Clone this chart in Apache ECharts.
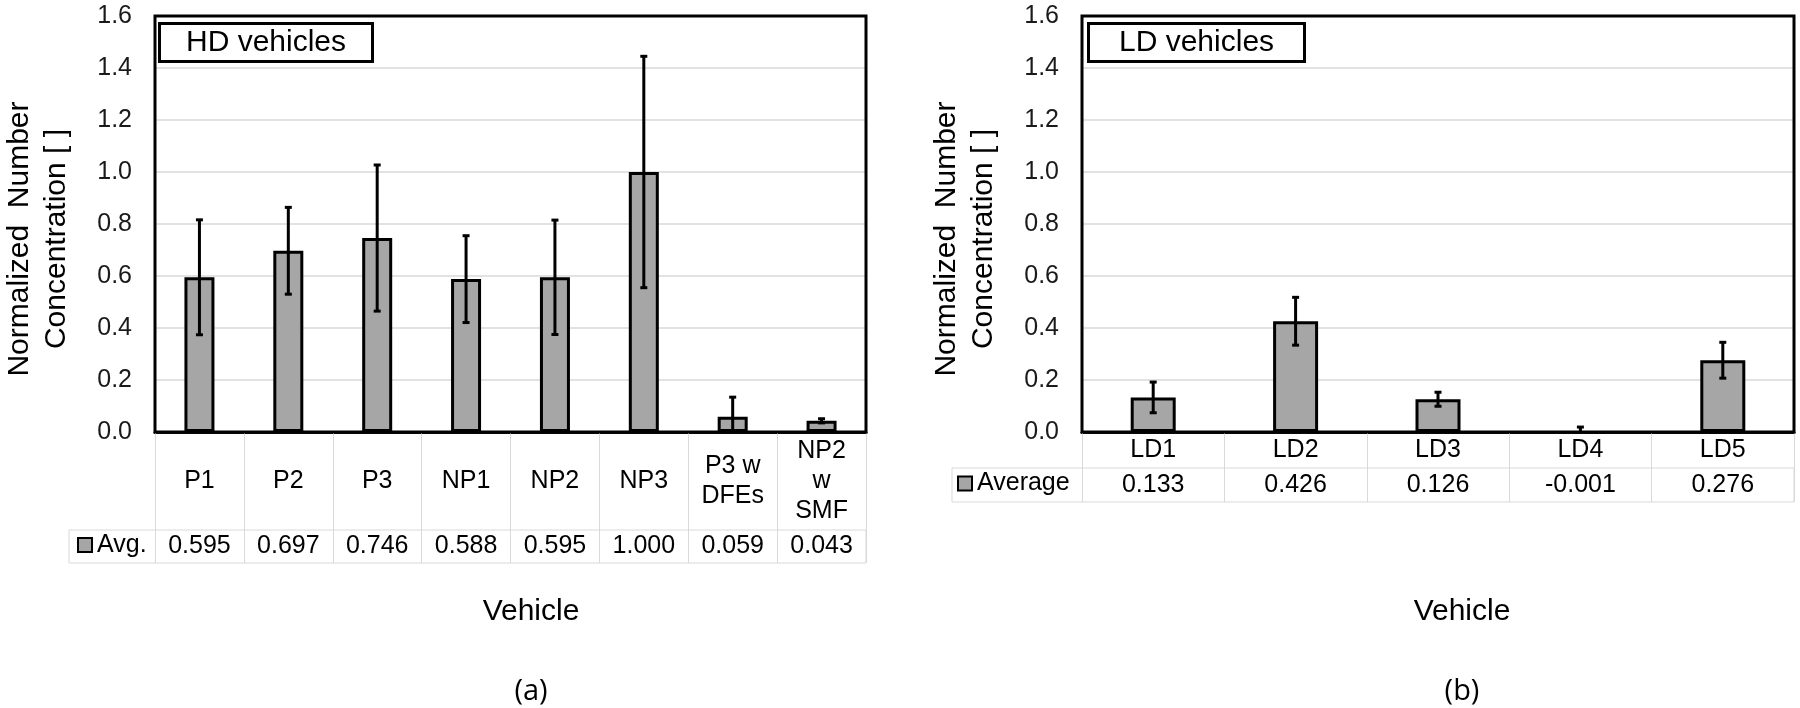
<!DOCTYPE html>
<html>
<head>
<meta charset="utf-8">
<script src="https://cdn.jsdelivr.net/npm/echarts@6/dist/echarts.min.js"></script>
<style>
html,body{margin:0;padding:0;background:#fff;}
#chart{width:1800px;height:708px;}
</style>
</head>
<body>
<div id="chart"></div>
<script>
// ---- data ----
const hdCategories = ['P1', 'P2', 'P3', 'NP1', 'NP2', 'NP3', 'P3 w\nDFEs', 'NP2\nw\nSMF'];
const hdAvg = [0.595, 0.697, 0.746, 0.588, 0.595, 1.000, 0.059, 0.043];
const hdErr = [0.221, 0.167, 0.281, 0.167, 0.220, 0.445, 0.075, 0.008];
const ldCategories = ['LD1', 'LD2', 'LD3', 'LD4', 'LD5'];
const ldAvg = [0.133, 0.426, 0.126, -0.001, 0.276];
const ldErr = [0.059, 0.092, 0.027, 0.020, 0.069];
const yMin = 0, yMax = 1.6, yStep = 0.2;
const hdTitle = 'HD vehicles', ldTitle = 'LD vehicles';
const hdSeriesName = 'Avg.', ldSeriesName = 'Average';
const yTitle = 'Normalized  Number\nConcentration [ ]';
const xTitle = 'Vehicle';

// ---- layout ----
const FONT = '"Liberation Sans", Arial, sans-serif';
const PA = {left: 153, right: 866, top: 16, bottom: 432, labRow: 98, avgRow: 33, head: 69, barW: 30, center: 531, tag: '(a)'};
const PB = {left: 1082, right: 1794, top: 16, bottom: 432, labRow: 36, avgRow: 34, head: 952, barW: 45, center: 1462, tag: '(b)'};
const BAR = '#a6a6a6';
const GRIDC = '#d9d9d9';

const chart = echarts.init(document.getElementById('chart'), null, {renderer: 'canvas'});

function errRender(params, api) {
  const x = api.value(0), v = api.value(1), e = api.value(2);
  const t = api.coord([x, v + e]);
  const b = api.coord([x, v - e]);
  const cap = 3.5;
  const st = {stroke: '#000', lineWidth: 3};
  return {
    type: 'group',
    children: [
      {type: 'line', shape: {x1: t[0], y1: t[1], x2: b[0], y2: b[1]}, style: st},
      {type: 'line', shape: {x1: t[0] - cap, y1: t[1], x2: t[0] + cap, y2: t[1]}, style: st},
      {type: 'line', shape: {x1: b[0] - cap, y1: b[1], x2: b[0] + cap, y2: b[1]}, style: st}
    ]
  };
}

function gridOf(P) {
  return {
    left: P.left, top: P.top, width: P.right - P.left, height: P.bottom - P.top,
    show: true, borderColor: '#000', borderWidth: 3, backgroundColor: 'transparent', z: 3
  };
}

function xAxesOf(P, cats, avg, gi) {
  return [
    {
      type: 'category', gridIndex: gi, data: cats, position: 'bottom',
      axisLine: {show: true, lineStyle: {color: '#111', width: 3}},
      axisTick: {show: true, length: P.labRow + P.avgRow, lineStyle: {color: GRIDC, width: 1}},
      axisLabel: {interval: 0, color: '#000', fontFamily: FONT, fontSize: 25, lineHeight: 30,
        verticalAlign: 'middle', margin: P.labRow / 2, align: 'center'},
      splitLine: {show: false}
    },
    {
      type: 'category', gridIndex: gi, data: avg.map(v => v.toFixed(3)), position: 'bottom',
      offset: P.labRow,
      axisLine: {show: false}, axisTick: {show: false},
      axisLabel: {interval: 0, color: '#000', fontFamily: FONT, fontSize: 25,
        verticalAlign: 'middle', margin: P.avgRow / 2},
      splitLine: {show: false}
    }
  ];
}

function yAxisOf(gi) {
  return {
    type: 'value', gridIndex: gi, min: yMin, max: yMax, interval: yStep,
    axisLine: {show: false}, axisTick: {show: false},
    axisLabel: {formatter: v => v.toFixed(1), color: '#1a1a1a', fontFamily: FONT, fontSize: 25, margin: 23},
    splitLine: {show: true, showMinLine: false, showMaxLine: false, lineStyle: {color: GRIDC, width: 1.5}},
    name: yTitle, nameLocation: 'middle', nameRotate: 90, nameGap: 80,
    nameTextStyle: {color: '#000', fontFamily: FONT, fontSize: 30, lineHeight: 37, padding: [0, 30, 0, 0]}
  };
}

function tableGraphics(P) {
  const y0 = P.bottom + P.labRow;
  return [
    {type: 'rect', silent: true, z: 10,
      shape: {x: P.head, y: y0, width: P.right - P.head, height: P.avgRow},
      style: {fill: 'none', stroke: GRIDC, lineWidth: 1}},
    {type: 'text', silent: true, z: 10, x: P.center, y: 612,
      style: {text: xTitle, fill: '#000', font: '30px ' + FONT, textAlign: 'center', textVerticalAlign: 'middle'}},
    {type: 'text', silent: true, z: 10, x: P.center, y: 692,
      style: {text: P.tag, fill: '#000', font: '29px "Open Sans", ' + FONT, textAlign: 'center', textVerticalAlign: 'middle'}}
  ];
}

function titleOf(text, left, padH) {
  return {
    text: text, left: left, top: 23, z: 10,
    padding: [4, padH, 4, padH],
    borderColor: '#000', borderWidth: 3, backgroundColor: '#fff',
    textStyle: {color: '#000', fontFamily: FONT, fontSize: 30, fontWeight: 'normal', lineHeight: 31}
  };
}

function legendOf(name, left, cy) {
  return {
    data: [name], left: left, top: cy - 14, padding: 0,
    icon: 'rect', itemWidth: 14, itemHeight: 14, itemGap: 5,
    selectedMode: false,
    itemStyle: {color: BAR, borderColor: '#000', borderWidth: 2},
    textStyle: {color: '#000', fontFamily: FONT, fontSize: 25, padding: [0, 0, 0, 0]}
  };
}

const option = {
  animation: false,
  backgroundColor: '#fff',
  title: [titleOf(hdTitle, 159, 27), titleOf(ldTitle, 1088, 31)],
  legend: [
    legendOf(hdSeriesName, 77, PA.bottom + PA.labRow + PA.avgRow / 2),
    legendOf(ldSeriesName, 957, PB.bottom + PB.labRow + PB.avgRow / 2)
  ],
  grid: [gridOf(PA), gridOf(PB)],
  xAxis: [].concat(xAxesOf(PA, hdCategories, hdAvg, 0), xAxesOf(PB, ldCategories, ldAvg, 1)),
  yAxis: [yAxisOf(0), yAxisOf(1)],
  series: [
    {name: hdSeriesName, type: 'bar', xAxisIndex: 0, yAxisIndex: 0, data: hdAvg, barWidth: PA.barW,
      itemStyle: {color: BAR, borderColor: '#000', borderWidth: 3}},
    {name: 'hdErr', type: 'custom', xAxisIndex: 0, yAxisIndex: 0, clip: true, z: 5,
      data: hdAvg.map((v, i) => [i, v, hdErr[i]]), encode: {x: 0, y: 1}, renderItem: errRender},
    {name: ldSeriesName, type: 'bar', xAxisIndex: 2, yAxisIndex: 1, data: ldAvg, barWidth: PB.barW,
      itemStyle: {color: BAR, borderColor: '#000', borderWidth: 3}},
    {name: 'ldErr', type: 'custom', xAxisIndex: 2, yAxisIndex: 1, clip: true, z: 5,
      data: ldAvg.map((v, i) => [i, v, ldErr[i]]), encode: {x: 0, y: 1}, renderItem: errRender}
  ],
  graphic: [].concat(tableGraphics(PA), tableGraphics(PB))
};
chart.setOption(option);
</script>
</body>
</html>
